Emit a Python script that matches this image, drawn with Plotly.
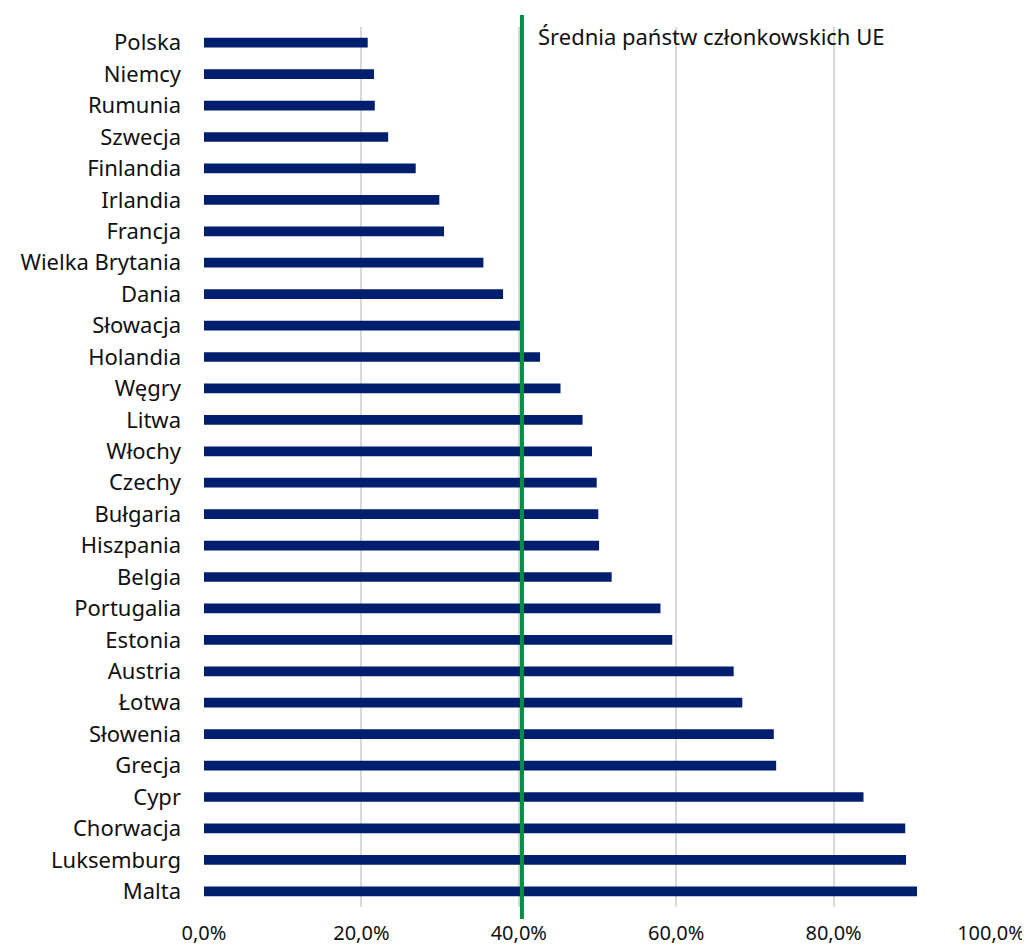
import plotly.graph_objects as go

countries = ["Polska", "Niemcy", "Rumunia", "Szwecja", "Finlandia", "Irlandia", "Francja",
             "Wielka Brytania", "Dania", "Słowacja", "Holandia", "Węgry", "Litwa", "Włochy",
             "Czechy", "Bułgaria", "Hiszpania", "Belgia", "Portugalia", "Estonia", "Austria",
             "Łotwa", "Słowenia", "Grecja", "Cypr", "Chorwacja", "Luksemburg", "Malta"]
values = [0.208, 0.216, 0.217, 0.234, 0.269, 0.299, 0.305,
          0.355, 0.380, 0.402, 0.427, 0.453, 0.481, 0.493,
          0.499, 0.501, 0.502, 0.518, 0.580, 0.595, 0.673,
          0.684, 0.724, 0.727, 0.838, 0.891, 0.892, 0.906]
eu_average = 0.404
eu_label = "Średnia państw członkowskich UE"
x_ticks = [0, 0.2, 0.4, 0.6, 0.8, 1.0]

FONT = "Noto Sans"

fig = go.Figure()
fig.add_trace(go.Bar(
    x=values, y=countries, orientation="h",
    marker=dict(color="#001e6e", line=dict(width=0)),
    width=0.31,
))

fig.add_shape(type="line", xref="x", yref="paper",
              x0=eu_average, x1=eu_average, y0=-0.0136, y1=1.0136,
              line=dict(color="#0a8c46", width=4))
fig.add_annotation(xref="x", yref="paper", x=eu_average, y=1.0,
                   text=eu_label, showarrow=False,
                   xanchor="left", yanchor="middle", xshift=14, yshift=-9,
                   font=dict(family=FONT, size=22, color="#111111"))

# page body has an 8px default margin, so the figure is sized to fit the window
fig.update_layout(
    width=1022, height=941,
    margin=dict(l=196, r=39, t=19, b=42),
    paper_bgcolor="white", plot_bgcolor="white",
    showlegend=False,
    separators=", ",
    font=dict(family=FONT, size=21, color="#111111"),
)
fig.update_xaxes(range=[0, 1.0], tickvals=x_ticks, tickformat=".1%",
                 showgrid=True, gridcolor="#d9d9d9", gridwidth=1.5,
                 zeroline=False, showline=False, ticks="",
                 automargin=False, ticklabelstandoff=12,
                 tickfont=dict(family=FONT, size=20, color="#111111"))
fig.update_yaxes(categoryorder="array", categoryarray=countries, autorange="reversed",
                 showgrid=False, zeroline=False, showline=False, ticks="",
                 automargin=False, ticklabelstandoff=22,
                 tickfont=dict(family=FONT, size=22, color="#111111"))

fig.write_html("out.html")
